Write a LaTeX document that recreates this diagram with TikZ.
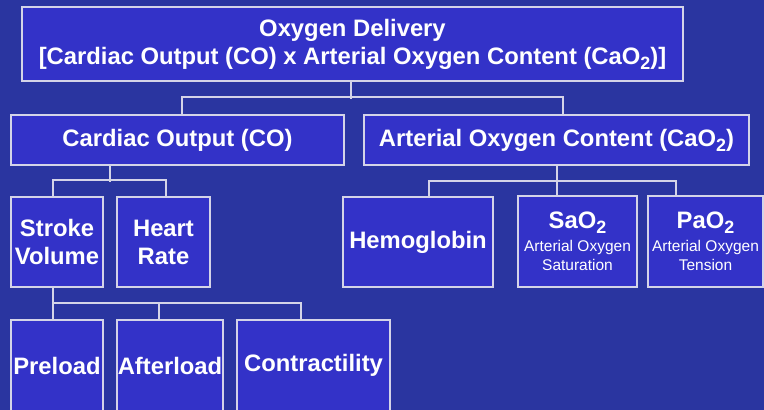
\documentclass[tikz,border=0pt]{standalone}
\usepackage{fontspec}
\setmainfont{Liberation Sans}
\usepackage{tikz}
\usetikzlibrary{positioning,calc}
\definecolor{ODBack}{HTML}{2A35A0}
\definecolor{ODBox}{HTML}{3332C8}
\definecolor{ODLine}{HTML}{D4D4E8}
\newcommand{\lowtwo}{\raisebox{-.4ex}{\scalebox{.75}{2}}}
\newcommand{\bigfont}{\fontsize{23.8}{28}\selectfont\bfseries}
\tikzset{
  wire/.style={ODLine,line width=2pt},
  block/.style={draw=ODLine,line width=2pt,fill=ODBox,text=white,inner sep=0pt,
                align=center,font=\bigfont},
  noteblock/.style={block,font=\fontsize{15.5}{19}\selectfont},
}

\begin{document}
\begin{tikzpicture}[x=1pt,y=-1pt]
    \fill[ODBack] (0,0) rectangle (764,410);
    \useasboundingbox (0,0) rectangle (764,410);
    \clip (0,0) rectangle (764,410);

    % top level
    \node[block,minimum width=661,minimum height=74] (del) at (352.5,44)
      {Oxygen Delivery\\{[}Cardiac Output (CO) x Arterial Oxygen Content (CaO\lowtwo)]};

    % second level
    \node[block,minimum width=333,minimum height=50] (co) at (177.5,140)
      {Cardiac Output (CO)};
    \node[block,minimum width=385,minimum height=50] (cao) at (556.5,140)
      {Arterial Oxygen Content (CaO\lowtwo)};

    % third level
    \node[block,minimum width=92,minimum height=90] (sv) at (57,242) {Stroke\\Volume};
    \node[block,minimum width=93,minimum height=90] (hr) at (163.5,242) {Heart\\Rate};
    \node[block,minimum width=150,minimum height=90] (hb) at (418,242) {Hemoglobin};
    \node[noteblock,minimum width=119,minimum height=91] (sao) at (577.5,241.5)
      {{\bigfont SaO\lowtwo}\\[4pt]Arterial Oxygen\\Saturation};
    \node[noteblock,minimum width=115,minimum height=91] (pao) at (705.5,241.5)
      {{\bigfont PaO\lowtwo}\\[4pt]Arterial Oxygen\\Tension};

    % fourth level
    \node[block,minimum width=92,minimum height=91] (pre) at (57,365.5) {Preload};
    \node[block,minimum width=106,minimum height=91] (aft) at (170,365.5) {Afterload};
    \node[block,minimum width=153,minimum height=91] (con) at (313.5,365.5) {Contractility};

    % connectors
    \draw[wire] ([xshift=-1.5]del.south) -- ++(0,17);
    \draw[wire] ([xshift=4]co.north) -- ++(0,-17) -| ([xshift=6]cao.north);
    \draw[wire] ([xshift=-67.5]co.south) -- ++(0,16);
    \draw[wire] ([xshift=-4]sv.north) -- ++(0,-16) -| ([xshift=2.5]hr.north);
    \draw[wire] (cao.south) -- (cao.south |- sao.north);
    \draw[wire] ([xshift=11]hb.north) -- ++(0,-15) -| ([xshift=-29.5]pao.north);
    \draw[wire] ([xshift=-4]sv.south) -- ([xshift=-4]pre.north);
    \draw[wire] ([xshift=-4,yshift=16]pre.north) -| ([xshift=-11]aft.north);
    \draw[wire] ([xshift=-11,yshift=16]aft.north) -| ([xshift=-12.5]con.north);
  \end{tikzpicture}
\end{document}
